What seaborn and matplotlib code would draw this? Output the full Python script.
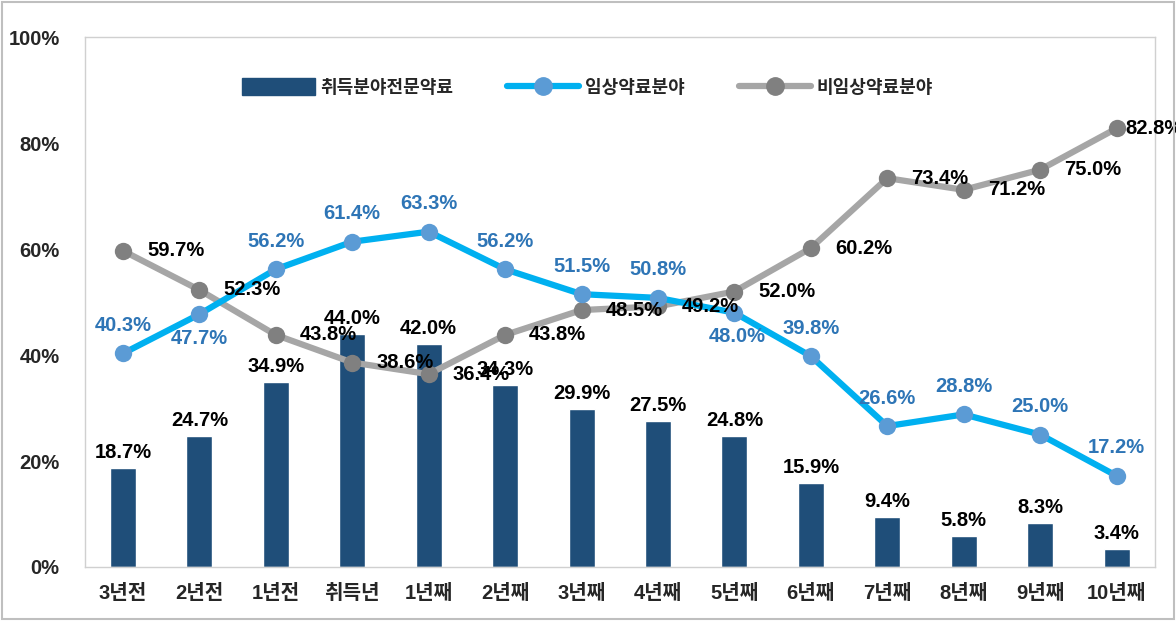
import matplotlib
matplotlib.use("Agg")
import matplotlib.pyplot as plt
import pandas as pd
import seaborn as sns
from matplotlib.lines import Line2D
from matplotlib.patches import Patch
from matplotlib.ticker import PercentFormatter

periods = ["3년전", "2년전", "1년전", "취득년", "1년째", "2년째", "3년째", "4년째",
           "5년째", "6년째", "7년째", "8년째", "9년째", "10년째"]
specialty = [18.7, 24.7, 34.9, 44.0, 42.0, 34.3, 29.9, 27.5, 24.8, 15.9, 9.4, 5.8, 8.3, 3.4]
clinical = [40.3, 47.7, 56.2, 61.4, 63.3, 56.2, 51.5, 50.8, 48.0, 39.8, 26.6, 28.8, 25.0, 17.2]
nonclinical = [59.7, 52.3, 43.8, 38.6, 36.4, 43.8, 48.5, 49.2, 52.0, 60.2, 73.4, 71.2, 75.0, 82.8]
series_names = ["취득분야전문약료", "임상약료분야", "비임상약료분야"]

df = pd.DataFrame({"period": periods, "specialty": specialty,
                   "clinical": clinical, "nonclinical": nonclinical})

sns.set_style("white")
plt.rcParams["font.family"] = ["Liberation Sans", "Noto Sans CJK KR", "DejaVu Sans"]
plt.rcParams["font.weight"] = "bold"

BAR = "#1F4E79"
BLUE_LINE, BLUE_MK, BLUE_TXT = "#00B0F0", "#5B9BD5", "#2E75B6"
GRAY_LINE, GRAY_MK = "#A6A6A6", "#808080"
FS = 14.5

fig = plt.figure(figsize=(11.76, 6.21), dpi=100)
ax = fig.add_axes([0.072, 0.087, 0.910, 0.853])

sns.barplot(data=df, x="period", y="specialty", color=BAR, width=0.34,
            saturation=1, ax=ax, zorder=2)
sns.pointplot(data=df, x="period", y="nonclinical", color=GRAY_LINE,
              markers="o", markersize=0, linewidth=4.5, ax=ax, zorder=3)
sns.pointplot(data=df, x="period", y="clinical", color=BLUE_LINE,
              markers="o", markersize=0, linewidth=4.5, ax=ax, zorder=4)
# markers on top of the lines
sns.stripplot(data=df, x="period", y="nonclinical", color=GRAY_MK, size=12.5,
              jitter=False, ax=ax, zorder=5, linewidth=0)
sns.stripplot(data=df, x="period", y="clinical", color=BLUE_MK, size=12.5,
              jitter=False, ax=ax, zorder=6, linewidth=0)

for i, v in enumerate(specialty):
    ax.annotate(f"{v:.1f}%", (i, v), xytext=(0, 6), textcoords="offset pixels",
                ha="center", va="bottom", fontsize=FS, fontweight="bold",
                color="black", zorder=8)
for i, v in enumerate(nonclinical):
    dx = 9 if i == len(nonclinical) - 1 else 24
    ax.annotate(f"{v:.1f}%", (i, v), xytext=(dx, 0), textcoords="offset pixels",
                ha="left", va="center", fontsize=FS, fontweight="bold",
                color="black", zorder=8)
for i, v in enumerate(clinical):
    dy = -24 if i in (1, 8) else 28
    ax.annotate(f"{v:.1f}%", (i, v), xytext=(3 if i == 8 else 0, dy),
                textcoords="offset pixels", ha="center", va="center",
                fontsize=FS, fontweight="bold", color=BLUE_TXT, zorder=8)

ax.set_xlim(-0.5, len(periods) - 0.5)
ax.set_ylim(0, 100)
ax.set_yticks(range(0, 101, 20))
ax.yaxis.set_major_formatter(PercentFormatter(decimals=0))
ax.set_xlabel("")
ax.set_ylabel("")
ax.tick_params(axis="both", length=0, labelsize=FS, pad=12)
ax.tick_params(axis="y", pad=18)
for lab in ax.get_xticklabels() + ax.get_yticklabels():
    lab.set_fontweight("bold")
for s in ax.spines.values():
    s.set_color("#D0D0D0")
    s.set_linewidth(1)

handles = [
    Patch(facecolor=BAR, edgecolor=BAR),
    Line2D([0], [0], color=BLUE_LINE, lw=4.5, marker="o", markersize=12.5,
           markerfacecolor=BLUE_MK, markeredgecolor=BLUE_MK),
    Line2D([0], [0], color=GRAY_LINE, lw=4.5, marker="o", markersize=12.5,
           markerfacecolor=GRAY_MK, markeredgecolor=GRAY_MK),
]
ax.legend(handles, series_names, ncol=3, loc="center", bbox_to_anchor=(0.47, 0.905),
          frameon=False, handlelength=4.0, handleheight=1.0,
          columnspacing=3.0, handletextpad=0.3,
          prop={"weight": "bold", "size": 13})

fig.patches.append(plt.Rectangle((0.002, 0.003), 0.996, 0.994, fill=False,
                                 edgecolor="#BFBFBF", lw=1.5,
                                 transform=fig.transFigure, figure=fig))
fig.savefig("out.png", dpi=100)
